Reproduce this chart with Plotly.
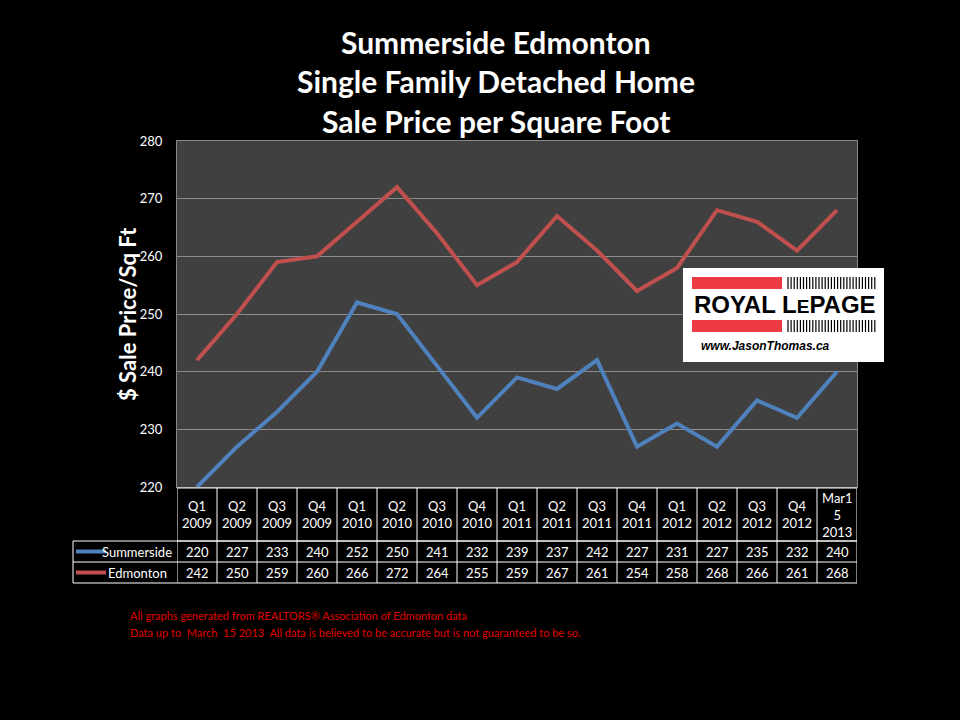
import plotly.graph_objects as go

periods = ["Q1<br>2009", "Q2<br>2009", "Q3<br>2009", "Q4<br>2009",
           "Q1<br>2010", "Q2<br>2010", "Q3<br>2010", "Q4<br>2010",
           "Q1<br>2011", "Q2<br>2011", "Q3<br>2011", "Q4<br>2011",
           "Q1<br>2012", "Q2<br>2012", "Q3<br>2012", "Q4<br>2012",
           "Mar1<br>5<br>2013"]
summerside = [220, 227, 233, 240, 252, 250, 241, 232, 239, 237, 242, 227, 231, 227, 235, 232, 240]
edmonton = [242, 250, 259, 260, 266, 272, 264, 255, 259, 267, 261, 254, 258, 268, 266, 261, 268]
series_names = ["Summerside", "Edmonton"]
y_ticks = [220, 230, 240, 250, 260, 270, 280]

BLUE = "#4f81bd"
RED = "#c0504d"
W, H = 960, 720
L, R, T, B = 177, 857, 141, 487
PW, PH = R - L, B - T


def px(X):
    return (X - L) / PW


def py(Y):
    return (B - Y) / PH


n = len(periods)
xs = list(range(n))

fig = go.Figure()
fig.add_trace(go.Scatter(x=xs, y=summerside, mode="lines", name="Summerside",
                         line=dict(color=BLUE, width=4), hoverinfo="skip"))
fig.add_trace(go.Scatter(x=xs, y=edmonton, mode="lines", name="Edmonton",
                         line=dict(color=RED, width=4), hoverinfo="skip"))

shapes = []
annotations = []

# Titles
for i, t in enumerate(["Summerside Edmonton", "Single Family Detached Home", "Sale Price per Square Foot"]):
    annotations.append(dict(text="<b>%s</b>" % t, x=px(496), y=py(42 + 39.5 * i), xref="paper", yref="paper",
                            showarrow=False, xanchor="center", yanchor="middle",
                            font=dict(family="Lato, Open Sans, sans-serif", size=30, color="white")))

# Y axis title
annotations.append(dict(text="<b>$ Sale Price/Sq Ft</b>", x=px(127), y=py(314), xref="paper", yref="paper",
                        showarrow=False, textangle=-90, xanchor="center", yanchor="middle",
                        font=dict(family="Lato, Open Sans, sans-serif", size=22, color="white")))

# Data table
rowY = [488, 541, 562, 583]
line_col = "white"
for Y in rowY[:2]:
    shapes.append(dict(type="line", xref="x", yref="paper", x0=-0.5, x1=n - 0.5, y0=py(Y), y1=py(Y),
                       line=dict(color=line_col, width=1)))
for Y in rowY[1:]:
    shapes.append(dict(type="line", xref="paper", yref="paper", x0=px(73), x1=1, y0=py(Y), y1=py(Y),
                       line=dict(color=line_col, width=1)))
shapes.append(dict(type="line", xref="paper", yref="paper", x0=px(73), x1=px(73), y0=py(541), y1=py(583),
                   line=dict(color=line_col, width=1)))
for i in range(n + 1):
    shapes.append(dict(type="line", xref="x", yref="paper", x0=i - 0.5, x1=i - 0.5, y0=py(488), y1=py(583),
                       line=dict(color=line_col, width=1)))

cell_font = dict(family="Lato, Open Sans, sans-serif", size=13, color="white")
for i, p in enumerate(periods):
    annotations.append(dict(text=p, x=i, y=py(514.5), xref="x", yref="paper", showarrow=False,
                            xanchor="center", yanchor="middle", font=cell_font))
for row, (vals, Yc) in enumerate([(summerside, 551.5), (edmonton, 572.5)]):
    for i, v in enumerate(vals):
        annotations.append(dict(text=str(v), x=i, y=py(Yc), xref="x", yref="paper", showarrow=False,
                                xanchor="center", yanchor="middle", font=cell_font))

for name, col, Yc in [(series_names[0], BLUE, 551.5), (series_names[1], RED, 572.5)]:
    shapes.append(dict(type="line", xref="paper", yref="paper", x0=px(76), x1=px(106), y0=py(Yc), y1=py(Yc),
                       line=dict(color=col, width=4)))
    annotations.append(dict(text=name, x=px(106) if name == series_names[1] else px(174),
                            y=py(Yc), xref="paper", yref="paper", showarrow=False,
                            xanchor="left" if name == series_names[1] else "right", yanchor="middle",
                            font=cell_font))

# Logo
shapes.append(dict(type="rect", xref="paper", yref="paper", x0=px(683), x1=px(884), y0=py(362), y1=py(268),
                   fillcolor="white", line=dict(width=0), layer="above"))
for (y0, y1) in [(277, 289), (320, 332)]:
    shapes.append(dict(type="rect", xref="paper", yref="paper", x0=px(692), x1=px(782), y0=py(y1), y1=py(y0),
                       fillcolor="#ee3b43", line=dict(width=0), layer="above"))
    Xh = 788
    while Xh <= 876:
        shapes.append(dict(type="line", xref="paper", yref="paper", x0=px(Xh), x1=px(Xh), y0=py(y1), y1=py(y0),
                           line=dict(color="black", width=1.2), layer="above"))
        Xh += 3.1
annotations.append(dict(text="<b>ROYAL L<span style='font-size:19px'>E</span>PAGE</b>", x=px(785), y=py(304),
                        xref="paper", yref="paper", showarrow=False, xanchor="center", yanchor="middle",
                        font=dict(family="Liberation Sans, Arial, sans-serif", size=24, color="black")))
annotations.append(dict(text="<i><b>www.JasonThomas.ca</b></i>", x=px(765), y=py(346), xref="paper", yref="paper",
                        showarrow=False, xanchor="center", yanchor="middle",
                        font=dict(family="Liberation Sans, Arial, sans-serif", size=12, color="black")))

# Footer
foot_font = dict(family="Lato, sans-serif", size=11, color="#e00000")
annotations.append(dict(text="All graphs generated from REALTORS\u00ae Association of Edmonton data",
                        x=px(128), y=py(615), xref="paper", yref="paper", showarrow=False,
                        xanchor="left", yanchor="middle", font=foot_font))
annotations.append(dict(text="Data up to  March  15 2013  All data is believed to be accurate but is not guaranteed to be so.",
                        x=px(128), y=py(632), xref="paper", yref="paper", showarrow=False,
                        xanchor="left", yanchor="middle", font=foot_font))

fig.update_layout(
    width=W, height=H,
    margin=dict(l=L, r=W - R, t=T, b=H - B, pad=0),
    paper_bgcolor="black", plot_bgcolor="#404040",
    showlegend=False,
    hovermode=False,
    xaxis=dict(range=[-0.5, n - 0.5], showticklabels=False, showgrid=False, zeroline=False,
               showline=True, linecolor="#888888", mirror=True, ticks=""),
    yaxis=dict(range=[220, 280], tickvals=y_ticks, showgrid=True, gridcolor="#8c8c8c", gridwidth=1,
               zeroline=False, showline=True, linecolor="#888888", mirror=True, ticks="",
               tickfont=dict(family="Lato, Open Sans, sans-serif", size=13, color="white"), ticklabelstandoff=11),
    shapes=shapes, annotations=annotations,
)
fig.write_html("out.html", config={"displayModeBar": False},
               post_script="document.body.style.margin='0';document.body.style.background='black';")
